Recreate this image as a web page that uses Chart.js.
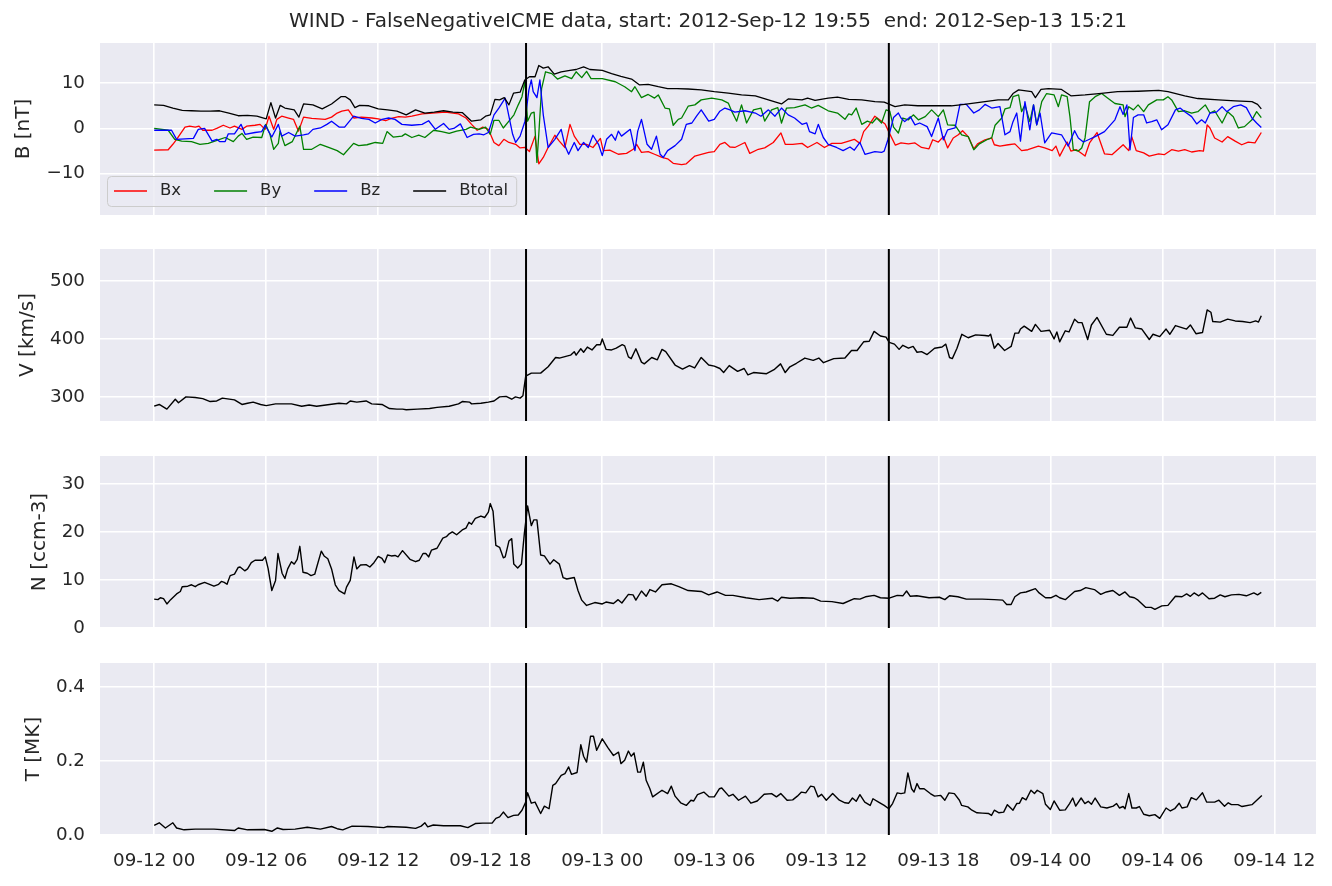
<!DOCTYPE html>
<html><head><meta charset="utf-8">
<script src="https://cdn.jsdelivr.net/npm/chart.js@4.4.1/dist/chart.umd.min.js"></script>
<style>
html,body{margin:0;padding:0;background:#fff;width:1332px;height:886px;overflow:hidden;}
canvas{position:absolute;left:0;}
</style></head><body>
<canvas id="c1" width="1332" height="220" style="top:0px;width:1332px;height:220px"></canvas>
<canvas id="c2" width="1332" height="187" style="top:239px;width:1332px;height:187px"></canvas>
<canvas id="c3" width="1332" height="187" style="top:446px;width:1332px;height:187px"></canvas>
<canvas id="c4" width="1332" height="233" style="top:653px;width:1332px;height:233px"></canvas>
<script>
// ---- text ----
const titleText = 'WIND - FalseNegativeICME data, start: 2012-Sep-12 19:55  end: 2012-Sep-13 15:21';
// ---- x axis (hours since 2012-09-12 00:00) ----
const xTickHours = [0, 6, 12, 18, 24, 30, 36, 42, 48, 54, 60];
const xTickLabels = ['09-12 00','09-12 06','09-12 12','09-12 18','09-13 00','09-13 06','09-13 12','09-13 18','09-14 00','09-14 06','09-14 12'];
const eventBounds = [19 + 55/60, 24 + 15 + 21/60];

// ---- magnetic field [nT] : [hour, value] ----
const bxSeries = [[0,-4.8],[0.75,-4.7],[1.0,-3.5],[1.2,-2.4],[1.65,0.3],[1.9,0.5],[2.2,0.3],[2.4,0.5],[2.6,-0.4],[3.1,-0.4],[3.35,0],[3.7,0.7],[4.06,0.1],[4.3,0.5],[4.7,-0.2],[4.95,0.5],[5.4,0.7],[5.67,0.9],[5.94,-0.2],[6.15,2.7],[6.4,-0.2],[6.57,2.0],[6.83,2.7],[7.2,2.3],[7.46,2.0],[7.73,-0.6],[8,2.5],[8.44,2.2],[9.16,2.0],[9.5,2.5],[9.8,3.4],[10.05,3.8],[10.4,4.1],[10.7,2.3],[11.1,2.5],[11.66,2.3],[12.0,2.1],[12.4,1.7],[12.7,2.2],[13.1,2.6],[13.45,2.5],[13.8,2.7],[14.35,3.2],[14.9,3.4],[15.6,3.6],[16.3,3.2],[16.7,2.3],[17.0,0.9],[17.3,-0.4],[17.6,0.3],[17.9,-0.2],[18.2,-3.1],[18.46,-3.8],[18.73,-2.4],[19,-3.1],[19.36,-3.5],[19.6,-4.3],[19.86,-4.2],[20.1,-5.1],[20.4,-1.7],[20.6,-7.8],[20.84,-6.4],[21.1,-4.2],[21.46,-1.5],[21.7,-2.8],[22,-4.2],[22.27,0.9],[22.5,-1.7],[22.8,-3.5],[23.16,-3.5],[23.5,-4.2],[23.9,-2.2],[24.05,-4.9],[24.4,-4.8],[24.86,-5.7],[25.3,-5.5],[25.66,-4.6],[25.84,-3.5],[26.1,-5.3],[26.46,-5.1],[26.8,-5.7],[27.2,-6.4],[27.5,-6.7],[27.8,-7.7],[28.25,-8.0],[28.5,-7.8],[28.96,-6.1],[29.3,-5.7],[29.7,-5.3],[30,-5.1],[30.3,-3.5],[30.57,-3.1],[30.84,-4.1],[31.1,-4.2],[31.64,-3.1],[31.9,-5.5],[32.36,-4.6],[32.7,-4.3],[33.16,-3.1],[33.57,-1.0],[33.8,-3.5],[34.2,-3.5],[34.7,-3.3],[35,-4.2],[35.5,-3.1],[35.9,-4.2],[36.3,-3.3],[36.8,-3.3],[37.2,-2.8],[37.5,-2.4],[37.8,-3.3],[38,-0.7],[38.25,0.5],[38.6,2.7],[38.96,1.6],[39.15,1.0],[39.4,-1.2],[39.7,-3.7],[40.0,-3.2],[40.4,-3.4],[40.75,-3.2],[41.1,-4.2],[41.5,-4.5],[41.7,-2.5],[42,-3.0],[42.27,-1.8],[42.5,-4.3],[42.8,-2.1],[43.07,-1.4],[43.3,-0.5],[43.6,-1.8],[43.9,-4.5],[44.1,-3.4],[44.5,-2.5],[44.86,-2.1],[45,-3.6],[45.3,-3.9],[45.75,-3.6],[46.1,-3.4],[46.46,-4.9],[46.8,-4.7],[47.36,-3.9],[47.7,-4.3],[48.1,-4.9],[48.3,-3.9],[48.5,-6.1],[48.9,-3.0],[49.1,-5.0],[49.4,-4.7],[49.7,-5.6],[49.86,-6.1],[50.1,-3.2],[50.5,-0.9],[50.9,-5.6],[51.3,-5.8],[51.6,-4.7],[51.9,-3.6],[52.2,-4.9],[52.36,-1.8],[52.6,-4.9],[53,-5.4],[53.3,-6.1],[53.8,-5.6],[54.1,-5.8],[54.5,-4.7],[54.86,-5.0],[55.2,-4.7],[55.57,-5.2],[56,-4.9],[56.2,-5.0],[56.4,0.8],[56.55,0.1],[56.8,-2.1],[57.2,-3.0],[57.5,-1.8],[57.9,-2.8],[58.25,-3.6],[58.6,-3.0],[58.96,-3.2],[59.3,-0.9]];
const bySeries = [[0,0],[0.75,-0.4],[1.1,-2.4],[1.47,-2.8],[2,-2.9],[2.45,-3.5],[2.9,-3.3],[3.4,-2.6],[3.8,-2.0],[4.24,-2.9],[4.5,-1.7],[4.7,-1.1],[4.95,-2.4],[5.3,-1.9],[5.76,-2.0],[5.97,0.9],[6.2,-1.3],[6.4,-4.6],[6.65,-3.3],[6.74,-0.6],[7.0,-3.8],[7.4,-2.9],[7.8,0.5],[8,-4.6],[8.44,-4.6],[8.9,-3.5],[9.34,-4.2],[9.8,-4.9],[10.14,-5.8],[10.68,-3.3],[10.95,-3.8],[11.4,-3.6],[11.84,-3.1],[12.24,-3.3],[12.47,-0.7],[12.8,-1.9],[13.27,-1.7],[13.45,-1.2],[13.8,-2.0],[14.17,-1.5],[14.5,-2.0],[14.97,-0.4],[15.4,-0.7],[15.8,-1.1],[16.2,-0.6],[16.7,-0.2],[16.94,0.3],[17.4,-0.2],[17.75,0.3],[18,-1.3],[18.2,1.8],[18.46,1.8],[18.7,0.1],[19,1.6],[19.27,3.0],[19.5,5.2],[19.7,7.0],[19.86,10.5],[20,1.6],[20.2,3.4],[20.35,3.6],[20.5,-7.5],[20.6,-1.3],[20.75,8.8],[20.96,12.5],[21.3,12.1],[21.6,10.9],[22,11.6],[22.36,11.0],[22.6,12.5],[22.9,11.2],[23.16,12.6],[23.4,11.0],[24,11.0],[24.7,10.3],[25.2,9.2],[25.57,8.1],[25.75,9.2],[26.1,6.8],[26.46,7.5],[26.8,6.7],[27,7.4],[27.36,4.5],[27.6,4.3],[27.8,0.7],[28.07,2.0],[28.25,2.3],[28.6,4.9],[28.96,5.2],[29.3,6.3],[29.86,6.7],[30.4,6.3],[30.75,5.6],[30.9,4.1],[31.2,1.6],[31.46,5.2],[31.73,1.2],[32.1,4.1],[32.5,4.5],[32.7,1.6],[33.07,4.1],[33.4,4.6],[33.6,1.2],[33.87,4.5],[34.3,4.6],[34.86,5.2],[35.2,4.5],[35.57,5.1],[36.1,3.9],[36.6,3.4],[37,2.0],[37.2,3.2],[37.36,3.0],[37.6,4.5],[37.9,0.9],[38.2,1.6],[38.46,1.2],[38.7,2.3],[38.96,1.2],[39.2,4.1],[39.4,3.8],[39.6,0.3],[39.86,-1.0],[40.1,2.3],[40.4,1.9],[40.66,3.0],[40.93,1.9],[41.3,2.6],[41.64,4.1],[42,2.6],[42.27,4.1],[42.5,0.8],[42.9,0.7],[43.25,-1.4],[43.6,-1.8],[43.9,-4.7],[44.2,-3.4],[44.6,-2.5],[44.86,-2.1],[45.04,0.7],[45.4,2.3],[45.57,4.3],[45.84,4.6],[46,7.0],[46.3,7.4],[46.46,3.7],[46.64,5.2],[46.9,1.5],[47.1,5.2],[47.27,0.8],[47.54,5.9],[47.8,7.7],[48.2,7.4],[48.43,4.8],[48.6,7.4],[48.9,7.0],[49.05,2.6],[49.23,-4.7],[49.5,-5.0],[49.68,-4.3],[49.86,-2.1],[50.1,5.9],[50.4,7.0],[50.75,7.7],[51.1,6.6],[51.46,5.5],[51.9,5.2],[52,2.6],[52.2,4.8],[52.45,4.1],[52.7,5.2],[53,3.7],[53.25,5.2],[53.7,6.3],[54.05,6.3],[54.3,7.0],[54.5,6.3],[54.86,3.7],[55.2,3.9],[55.57,3.4],[55.9,3.7],[56.3,5.2],[56.55,3.4],[56.8,3.9],[57.2,1.2],[57.5,3.7],[57.8,2.6],[58.07,0.1],[58.4,0.4],[58.8,1.9],[59.05,3.7],[59.3,2.4]];
const bzSeries = [[0,-0.4],[0.93,-0.4],[1.2,-2.4],[2.1,-2.2],[2.36,-0.2],[2.7,0],[3.1,-2.8],[3.35,-2.4],[3.5,-2.9],[3.8,-2.9],[3.97,-1.2],[4.3,-1.2],[4.65,0.9],[4.87,-1.3],[5.4,-0.9],[5.76,-0.7],[5.94,0.7],[6.3,-1.9],[6.65,0.9],[6.83,-1.7],[7.2,-0.9],[7.55,-1.7],[8,-1.4],[8.26,-1.2],[8.5,-0.2],[8.9,0.1],[9.25,0.9],[9.5,1.6],[9.9,0.3],[10.2,0.3],[10.68,2.7],[11.1,2.2],[11.5,2.0],[11.84,1.2],[12.2,2.0],[12.56,2.3],[12.9,2.0],[13.27,0.9],[13.8,0.7],[14.35,0.9],[14.7,1.7],[15.06,-0.2],[15.5,1.1],[15.8,-0.2],[16.05,0],[16.4,1.0],[16.76,-2.0],[17.1,-1.3],[17.4,-1.2],[17.66,-1.4],[17.9,-0.9],[18.2,3.0],[18.46,4.5],[18.8,6.7],[19.2,-1.3],[19.36,-3.1],[19.6,-1.7],[19.86,1.6],[20.07,8.5],[20.2,10.7],[20.3,8.1],[20.5,6.8],[20.66,10.7],[20.84,3.0],[21.1,-4.2],[21.46,-2.4],[21.8,-0.2],[22,-3.8],[22.2,-5.7],[22.5,-3.1],[22.7,-4.9],[23,-3.1],[23.25,-4.2],[23.5,-1.5],[23.8,-3.5],[24,-6.0],[24.23,-2.4],[24.5,-1.3],[24.7,-2.6],[24.86,-0.6],[25.03,-1.7],[25.5,-0.2],[25.75,-4.9],[25.9,-0.6],[26.1,2.0],[26.4,-3.5],[26.64,-4.6],[26.9,-1.7],[27.1,-5.7],[27.27,-6.4],[27.5,-4.9],[27.9,-3.8],[28.25,-2.4],[28.5,0.9],[28.8,1.2],[29.05,2.7],[29.3,4.1],[29.7,1.6],[30,2.0],[30.3,3.8],[30.57,4.5],[30.84,4.1],[31.1,3.6],[31.64,3.9],[32.2,3.4],[32.5,2.7],[32.9,4.1],[33.25,2.7],[33.6,4.5],[33.96,3.0],[34.3,2.3],[34.7,0.9],[34.95,1.2],[35.1,-0.7],[35.4,-1.2],[35.57,0.9],[35.84,-2.0],[36.1,-3.5],[36.55,-4.2],[36.9,-4.9],[37.27,-4.1],[37.5,-4.8],[37.8,-3.1],[38.07,-5.7],[38.6,-5.1],[38.96,-5.3],[39.1,-5.0],[39.3,-2.5],[39.6,2.4],[39.86,3.4],[40.0,2.3],[40.2,1.5],[40.5,2.6],[40.75,0.8],[41,1.2],[41.4,0.4],[41.64,-1.8],[42,2.3],[42.27,-2.5],[42.5,-0.3],[42.9,0.1],[43.16,5.3],[43.5,5.3],[43.9,3.4],[44.2,4.1],[44.5,5.3],[44.86,4.5],[45.3,4.8],[45.57,-1.4],[45.84,-0.7],[46,1.5],[46.2,3.4],[46.4,-2.8],[46.64,5.9],[46.9,-0.3],[47.1,5.2],[47.27,0.8],[47.45,3.4],[47.7,-3.2],[48.07,-1.0],[48.6,-1.4],[48.96,-3.9],[49.3,-0.5],[49.5,-2.1],[49.77,-3.0],[50.04,-2.5],[50.4,-1.8],[50.9,-0.7],[51.46,1.9],[51.73,4.8],[51.9,3.1],[52.1,5.2],[52.27,-4.7],[52.45,2.4],[52.7,3.0],[53,3.0],[53.16,1.2],[53.43,1.5],[53.7,1.9],[53.96,-0.3],[54.3,0.8],[54.7,4.1],[54.95,4.5],[55.2,3.7],[55.57,2.6],[55.84,1.0],[56.1,1.9],[56.3,1.2],[56.55,3.4],[56.9,3.6],[57.2,4.8],[57.45,3.7],[57.8,4.8],[58.2,5.2],[58.5,4.6],[58.8,2.3],[59.05,1.2],[59.3,0.2]];
const btSeries = [[0,5.2],[0.5,5.1],[1,4.5],[1.5,4.0],[2,3.9],[2.5,3.8],[3,3.8],[3.5,3.9],[4,3.4],[4.5,2.8],[5,2.9],[5.5,2.7],[6,2.1],[6.25,5.7],[6.5,2.3],[6.75,5.1],[7,4.5],[7.5,4.1],[7.75,2.5],[8,5.4],[8.5,5.2],[9,4.3],[9.5,5.4],[10,7.0],[10.25,7.0],[10.5,6.3],[10.75,4.6],[11,5.1],[11.5,5.0],[12,4.3],[12.5,4.1],[13,3.8],[13.5,3.0],[14,4.1],[14.5,3.4],[15,3.6],[15.5,3.9],[16,3.6],[16.5,3.5],[17,1.6],[17.5,1.9],[17.75,2.7],[18,3.0],[18.25,6.4],[18.5,6.3],[18.75,6.8],[19,5.2],[19.25,7.8],[19.6,8.0],[19.85,10.7],[20.1,11.4],[20.4,11.4],[20.6,13.9],[20.84,13.3],[21.1,13.6],[21.43,12.0],[21.8,12.5],[22.27,12.8],[22.6,13.0],[23,13.6],[23.34,13.0],[24,12.8],[24.5,12.1],[25,11.5],[25.57,10.9],[26,9.6],[26.46,9.7],[27,9.2],[27.5,8.8],[28,8.8],[28.6,8.7],[29.3,8.5],[30,8.1],[30.75,7.8],[31.46,7.4],[32.2,7.2],[32.9,6.3],[33.6,5.4],[33.96,6.5],[34.7,6.3],[35,6.7],[35.4,6.2],[36.1,6.7],[36.6,6.9],[37.2,6.4],[37.9,6.3],[38.6,5.9],[39.1,5.8],[39.68,4.8],[40.2,5.2],[40.9,5.0],[42,5.0],[42.7,5.0],[43.4,5.3],[44.5,5.9],[45.2,6.3],[45.75,6.3],[46,7.7],[46.3,8.5],[47,8.1],[47.2,6.8],[47.5,8.6],[47.9,8.8],[48.6,8.6],[49.1,7.2],[49.86,7.4],[50.6,7.7],[51.6,8.1],[52.7,8.2],[53.8,8.4],[54.3,8.1],[55.2,7.2],[55.9,6.6],[57,6.3],[57.9,6.1],[58.8,5.9],[59.1,5.3],[59.3,4.3]];

// ---- speed [km/s] ----
const vSeries = [[0,284],[0.27,287],[0.68,279],[1.13,296],[1.3,290],[1.7,300],[2.2,299],[2.6,297],[3,292],[3.35,293],[3.65,298],[4.3,295],[4.7,287],[5.0,289],[5.3,291],[5.7,287],[6,285],[6.5,288],[7.35,288],[7.9,284],[8.3,286],[8.7,284],[9.4,287],[9.9,289],[10.3,288],[10.5,293],[10.85,291],[11.35,293],[11.65,288],[12.2,287],[12.6,280],[13,279],[13.3,279],[13.5,278],[14.1,279],[14.75,280],[15.15,282],[15.8,284],[16.3,288],[16.5,292],[16.9,291],[17.0,288],[17.5,289],[17.9,291],[18.2,293],[18.5,300],[18.85,301],[19.15,296],[19.35,300],[19.6,298],[19.75,302],[19.9,336],[20.2,341],[20.7,341],[21.1,352],[21.5,368],[21.7,367],[22.3,372],[22.5,378],[22.6,372],[22.85,383],[23.0,377],[23.2,386],[23.45,381],[23.7,390],[23.9,390],[24,400],[24.2,382],[24.5,381],[24.75,384],[25.07,390],[25.2,388],[25.4,369],[25.55,366],[25.8,383],[26.1,360],[26.25,357],[26.65,368],[26.95,364],[27.2,382],[27.4,378],[27.9,355],[28.3,348],[28.67,354],[28.95,350],[29.3,368],[29.7,355],[30,353],[30.3,349],[30.5,342],[30.8,354],[31.25,344],[31.6,349],[31.8,338],[32.1,342],[32.8,340],[33.2,347],[33.55,357],[33.8,342],[34.05,352],[34.4,358],[34.85,367],[35.3,363],[35.6,367],[35.85,359],[36.4,366],[37,367],[37.35,380],[37.65,380],[38,395],[38.3,396],[38.56,413],[38.9,405],[39.2,403],[39.37,394],[39.65,391],[39.9,382],[40.1,389],[40.4,384],[40.65,387],[40.86,377],[41.1,378],[41.4,373],[41.8,384],[42.2,386],[42.4,391],[42.6,368],[42.75,366],[43.0,384],[43.26,408],[43.6,402],[44.0,407],[44.5,406],[44.7,405],[44.8,408],[45,384],[45.2,392],[45.55,380],[45.9,387],[46.1,410],[46.3,410],[46.4,417],[46.6,422],[47,413],[47.2,425],[47.5,413],[47.96,415],[48.2,400],[48.35,412],[48.5,395],[48.8,414],[49.0,412],[49.3,434],[49.5,428],[49.7,428],[50,399],[50.2,424],[50.5,437],[51,408],[51.35,406],[51.7,420],[52.1,420],[52.3,436],[52.55,419],[52.9,417],[53.3,399],[53.5,408],[53.86,404],[54.2,417],[54.4,408],[54.7,423],[55.3,417],[55.5,424],[55.8,409],[56.15,411],[56.4,450],[56.6,446],[56.7,430],[57.1,429],[57.5,434],[57.9,431],[58.3,430],[58.7,428],[59,431],[59.15,429],[59.3,440]];

// ---- density [ccm-3] ----
const nSeries = [[0,6.0],[0.2,5.9],[0.33,6.3],[0.5,6.1],[0.68,5.0],[0.88,5.9],[1.2,7.1],[1.4,7.6],[1.5,8.6],[1.8,8.7],[2.0,9.0],[2.2,8.6],[2.35,9.0],[2.7,9.5],[2.9,9.2],[3.2,8.7],[3.45,9.1],[3.6,9.7],[3.75,9.5],[3.9,9.1],[4.07,10.9],[4.3,11.2],[4.5,12.6],[4.6,12.7],[4.85,11.9],[5.0,12.3],[5.2,13.6],[5.4,14.1],[5.8,14.1],[5.95,14.8],[6.1,12.4],[6.3,7.8],[6.5,9.9],[6.63,15.5],[6.85,11.4],[7.0,10.3],[7.15,12.3],[7.35,13.8],[7.5,13.3],[7.66,14.3],[7.8,17.0],[7.97,11.6],[8.2,11.4],[8.4,10.9],[8.6,11.2],[8.7,12.6],[8.95,16.0],[9.1,15.0],[9.3,14.4],[9.5,12.3],[9.7,9.0],[9.9,7.8],[10.2,7.1],[10.3,8.5],[10.5,9.9],[10.7,14.8],[10.85,12.3],[11.05,13.1],[11.35,13.2],[11.55,12.7],[11.77,13.6],[12,14.9],[12.2,14.5],[12.34,13.6],[12.5,15.2],[12.7,15.0],[12.9,15.1],[13.06,14.8],[13.3,16.1],[13.7,14.3],[14.0,13.8],[14.2,14.1],[14.4,15.5],[14.55,15.5],[14.7,14.8],[14.85,16.2],[15.15,16.6],[15.46,18.7],[15.65,19.0],[15.8,19.6],[15.97,20.0],[16.2,19.4],[16.5,20.4],[16.7,20.8],[16.86,22.0],[17.0,21.6],[17.2,22.8],[17.5,23.3],[17.7,23.0],[17.9,24.1],[18.0,25.9],[18.15,24.3],[18.3,17.2],[18.5,16.8],[18.7,14.6],[18.8,14.8],[19.0,18.1],[19.15,18.6],[19.26,13.3],[19.47,12.5],[19.67,13.3],[19.83,19.8],[20.0,25.4],[20.2,21.3],[20.33,22.5],[20.5,22.5],[20.7,15.2],[20.9,15.0],[21.2,13.3],[21.4,14.2],[21.7,13.3],[21.9,10.5],[22.1,10.2],[22.5,10.5],[22.7,7.8],[22.9,5.8],[23.16,4.7],[23.6,5.3],[24.0,5.0],[24.2,5.4],[24.6,5.1],[24.85,5.9],[25.05,5.2],[25.4,7.0],[25.65,6.9],[25.8,5.8],[26.1,7.7],[26.35,6.6],[26.55,8.0],[26.85,7.5],[27.2,9.0],[27.7,9.2],[28.1,8.6],[28.6,7.8],[29.3,7.6],[29.7,6.9],[30.15,7.5],[30.6,6.8],[31,6.8],[31.7,6.3],[32.4,5.9],[33.1,6.2],[33.4,5.6],[33.6,6.4],[34.05,6.2],[34.7,6.3],[35.3,6.2],[35.7,5.6],[36.3,5.5],[36.9,5.1],[37.5,6.1],[37.8,6.0],[38.1,6.5],[38.56,6.8],[38.9,6.3],[39.37,6.2],[39.8,6.8],[40.1,6.7],[40.3,7.7],[40.5,6.6],[40.85,6.7],[41.5,6.3],[42.06,6.4],[42.35,5.9],[42.6,6.7],[43.05,6.5],[43.5,6.0],[43.9,6.0],[44.35,6.0],[45.0,5.9],[45.45,5.8],[45.66,4.9],[45.9,4.9],[46.1,6.5],[46.4,7.3],[46.7,7.5],[47.2,8.2],[47.4,7.3],[47.74,6.3],[48.05,6.3],[48.3,6.8],[48.5,6.3],[48.8,5.9],[49.3,7.6],[49.6,7.8],[49.9,8.4],[50.36,8.0],[50.7,7.0],[51,7.5],[51.35,7.8],[51.7,6.8],[52,7.5],[52.25,6.5],[52.5,6.3],[52.7,5.8],[53.1,4.3],[53.4,4.3],[53.6,3.9],[53.97,4.6],[54.3,4.7],[54.7,6.6],[55.05,6.5],[55.3,7.1],[55.5,6.6],[55.7,7.3],[55.95,6.7],[56.15,7.3],[56.5,6.1],[56.8,6.2],[57.1,6.9],[57.35,6.5],[57.7,6.9],[58.1,7.0],[58.5,6.7],[58.9,7.3],[59.1,6.9],[59.3,7.4]];

// ---- temperature [MK] ----
const tSeries = [[0,0.026],[0.27,0.033],[0.6,0.019],[1.0,0.033],[1.2,0.019],[1.6,0.014],[2.2,0.016],[3.2,0.016],[4.3,0.012],[4.5,0.019],[5.0,0.014],[5.9,0.015],[6.3,0.010],[6.6,0.019],[6.9,0.015],[7.55,0.016],[8.2,0.021],[8.9,0.016],[9.5,0.023],[9.8,0.017],[10.1,0.014],[10.6,0.024],[11.45,0.023],[12.3,0.020],[12.5,0.023],[13.5,0.021],[14.0,0.018],[14.3,0.024],[14.5,0.033],[14.65,0.022],[14.95,0.027],[15.5,0.025],[16.4,0.025],[16.8,0.020],[17.2,0.031],[17.6,0.032],[18.1,0.032],[18.3,0.045],[18.5,0.049],[18.7,0.062],[18.95,0.047],[19.25,0.053],[19.5,0.054],[19.7,0.067],[19.9,0.089],[20.0,0.114],[20.2,0.086],[20.4,0.089],[20.7,0.058],[20.9,0.078],[21.15,0.071],[21.35,0.134],[21.5,0.139],[21.8,0.161],[22.0,0.166],[22.2,0.184],[22.35,0.164],[22.65,0.169],[22.85,0.244],[23.0,0.213],[23.16,0.197],[23.37,0.267],[23.53,0.267],[23.7,0.229],[24.0,0.260],[24.3,0.236],[24.6,0.215],[24.87,0.224],[25.0,0.193],[25.2,0.202],[25.4,0.227],[25.55,0.213],[25.7,0.222],[25.9,0.170],[26.05,0.170],[26.2,0.197],[26.35,0.148],[26.55,0.125],[26.7,0.103],[27.2,0.121],[27.5,0.112],[27.7,0.132],[27.9,0.105],[28.2,0.087],[28.5,0.080],[28.75,0.094],[28.9,0.092],[29.1,0.109],[29.44,0.116],[29.73,0.103],[30,0.103],[30.27,0.125],[30.4,0.127],[30.78,0.105],[31.0,0.110],[31.3,0.094],[31.67,0.105],[31.96,0.086],[32.3,0.092],[32.67,0.110],[33.07,0.112],[33.33,0.103],[33.56,0.112],[33.9,0.094],[34.2,0.095],[34.45,0.105],[34.67,0.116],[34.9,0.114],[35.16,0.132],[35.35,0.130],[35.56,0.103],[35.75,0.110],[36,0.094],[36.34,0.112],[36.7,0.094],[37.0,0.087],[37.2,0.086],[37.4,0.100],[37.6,0.091],[37.8,0.109],[38.06,0.089],[38.35,0.080],[38.5,0.098],[38.8,0.089],[39.1,0.080],[39.35,0.071],[39.55,0.085],[39.8,0.114],[40.0,0.112],[40.2,0.114],[40.37,0.168],[40.57,0.125],[40.7,0.116],[40.86,0.139],[41.0,0.125],[41.24,0.125],[41.57,0.112],[41.8,0.105],[42.13,0.107],[42.35,0.094],[42.57,0.114],[42.86,0.112],[43.13,0.094],[43.25,0.080],[43.58,0.076],[43.8,0.067],[44.07,0.060],[44.36,0.059],[44.7,0.058],[44.85,0.053],[45.0,0.067],[45.25,0.060],[45.5,0.062],[45.7,0.082],[46.0,0.067],[46.2,0.085],[46.35,0.086],[46.5,0.101],[46.7,0.095],[46.96,0.121],[47.15,0.112],[47.3,0.121],[47.6,0.112],[47.74,0.083],[48,0.069],[48.2,0.092],[48.5,0.067],[48.8,0.068],[49.03,0.085],[49.2,0.100],[49.36,0.078],[49.65,0.100],[49.85,0.085],[50.03,0.091],[50.2,0.083],[50.4,0.100],[50.7,0.076],[51.03,0.073],[51.37,0.078],[51.55,0.085],[51.7,0.073],[51.9,0.077],[52.0,0.071],[52.2,0.112],[52.37,0.073],[52.6,0.073],[52.77,0.077],[53.0,0.056],[53.3,0.052],[53.6,0.055],[53.86,0.045],[54.2,0.073],[54.43,0.065],[54.66,0.071],[54.9,0.086],[55.05,0.073],[55.33,0.076],[55.55,0.101],[55.82,0.095],[56.15,0.114],[56.37,0.089],[56.8,0.089],[57.03,0.094],[57.33,0.078],[57.53,0.087],[57.7,0.082],[58.05,0.082],[58.27,0.077],[58.8,0.082],[59.33,0.107]];

// ---- y axis ticks ----
const bTicks = [-10, 0, 10];
const vTicks = [300, 400, 500];
const nTicks = [0, 10, 20, 30];
const tTicks = [0.0, 0.2, 0.4];

// ================= rendering =================
Chart.defaults.font.family = "'DejaVu Sans', sans-serif";
const TXT = '#262626';
const X_MIN = -2.903, X_MAX = 62.23;

const xy = p => p.map(([x, y]) => ({x, y}));
function line(label, pts, color, order, width) {
  return {label, data: xy(pts), borderColor: color, backgroundColor: color, borderWidth: width || 1.3,
          pointRadius: 0, fill: false, tension: 0, order, borderJoinStyle: 'round'};
}
function eventSets(ymin, ymax) {
  return eventBounds.map(h => ({label: '_event', data: [{x: h, y: ymin}, {x: h, y: ymax}],
    borderColor: '#000', borderWidth: 2, pointRadius: 0, order: 0, fill: false}));
}
const bgPlugin = {id: 'bg', beforeDraw(chart) {
  const {ctx, chartArea: a} = chart;
  ctx.save(); ctx.fillStyle = '#EAEAF2';
  ctx.fillRect(a.left, a.top, a.right - a.left, a.bottom - a.top); ctx.restore();
}};
const legendPlugin = {id: 'boxLegend', afterDraw(chart) {
  const ctx = chart.ctx;
  const items = chart.data.datasets.filter(d => d.label && d.label[0] !== '_');
  ctx.save();
  ctx.font = "16.5px 'DejaVu Sans'";
  const handle = 33, pad = 13, colSp = 33, left = 107, top = 176, h = 30, cy = top + h / 2;
  let x = left + 7; const pos = [];
  items.forEach(d => { const w = ctx.measureText(d.label).width; pos.push([x, w]); x += handle + pad + w + colSp; });
  const right = x - colSp + 8;
  const r = 4, L = left + 0.5, T = top + 0.5, R = right + 0.5, B = top + h + 0.5;
  ctx.beginPath();
  ctx.moveTo(L + r, T); ctx.lineTo(R - r, T); ctx.quadraticCurveTo(R, T, R, T + r);
  ctx.lineTo(R, B - r); ctx.quadraticCurveTo(R, B, R - r, B); ctx.lineTo(L + r, B);
  ctx.quadraticCurveTo(L, B, L, B - r); ctx.lineTo(L, T + r); ctx.quadraticCurveTo(L, T, L + r, T); ctx.closePath();
  ctx.fillStyle = 'rgba(234,234,242,0.8)'; ctx.fill();
  ctx.strokeStyle = '#cccccc'; ctx.lineWidth = 1; ctx.stroke();
  items.forEach((d, i) => {
    const [lx] = pos[i];
    ctx.strokeStyle = d.borderColor; ctx.lineWidth = 1.3;
    ctx.beginPath(); ctx.moveTo(lx, cy); ctx.lineTo(lx + handle, cy); ctx.stroke();
    ctx.fillStyle = TXT; ctx.textBaseline = 'middle'; ctx.textAlign = 'left';
    ctx.fillText(d.label, lx + handle + pad, cy);
  });
  ctx.restore();
}};
const noPad = s => { s.paddingTop = 0; s.paddingBottom = 0; s.paddingLeft = 0; s.paddingRight = 0; };

function panel(id, cfg) {
  const bottom = !!cfg.bottom;
  const grid = {color: '#ffffff', lineWidth: 1.6, drawTicks: false};
  return new Chart(document.getElementById(id), {
    type: 'line',
    data: {datasets: [...cfg.datasets, ...eventSets(cfg.ymin, cfg.ymax)]},
    options: {
      responsive: false, animation: false, devicePixelRatio: 1,
      layout: {autoPadding: false, padding: {left: 0, right: 16, top: cfg.padTop, bottom: cfg.padBottom}},
      plugins: {
        legend: {display: false}, tooltip: {enabled: false},
        title: cfg.title ? {display: true, text: cfg.title, fullSize: false, color: TXT,
          font: {size: 20, weight: 'normal'}, padding: {top: 10, bottom: 9}} : {display: false}
      },
      scales: {
        x: {type: 'linear', min: X_MIN, max: X_MAX,
          afterBuildTicks: s => { s.ticks = xTickHours.map(v => ({value: v})); },
          afterFit: s => { s.height = bottom ? 51 : 0; noPad(s); },
          grid, border: {display: false},
          ticks: {display: bottom, autoSkip: false, maxRotation: 0, minRotation: 0, padding: 15,
            color: TXT, font: {size: 18.3}, callback: v => xTickLabels[xTickHours.indexOf(v)]}},
        y: {type: 'linear', min: cfg.ymin, max: cfg.ymax,
          afterBuildTicks: s => { s.ticks = cfg.yticks.map(v => ({value: v})); },
          afterFit: s => { s.width = 100; noPad(s); },
          grid, border: {display: false},
          ticks: {padding: 15, color: TXT, font: {size: 18.3}, callback: cfg.yfmt},
          title: {display: true, text: cfg.ylabel, color: TXT, font: {size: 20},
            padding: {top: cfg.ytitlePad, bottom: 0}}}
      }
    },
    plugins: [bgPlugin, ...(cfg.plugins || [])]
  });
}
const intFmt = v => String(Math.round(v)).replace('-', '\u2212');

panel('c1', {title: titleText, padTop: 0, padBottom: 5, ymin: -19.1, ymax: 18.85, yticks: bTicks,
  yfmt: intFmt, ylabel: 'B [nT]', ytitlePad: 12, plugins: [legendPlugin],
  datasets: [line('Bx', bxSeries, '#ff0000', 4), line('By', bySeries, '#008000', 3),
             line('Bz', bzSeries, '#0000ff', 2), line('Btotal', btSeries, '#000000', 1)]});
panel('c2', {padTop: 10, padBottom: 5, ymin: 258.5, ymax: 555, yticks: vTicks, yfmt: intFmt,
  ylabel: 'V [km/s]', ytitlePad: 15.5, datasets: [line('V', vSeries, '#000000', 1, 1.4)]});
panel('c3', {padTop: 10, padBottom: 5, ymin: 0, ymax: 35.8, yticks: nTicks, yfmt: intFmt,
  ylabel: 'N [ccm-3]', ytitlePad: 27.5, datasets: [line('N', nSeries, '#000000', 1, 1.4)]});
panel('c4', {bottom: true, padTop: 10, padBottom: 0, ymin: 0, ymax: 0.465, yticks: tTicks,
  yfmt: v => v.toFixed(1), ylabel: 'T [MK]', ytitlePad: 22, datasets: [line('T', tSeries, '#000000', 1, 1.4)]});
</script>
</body></html>
